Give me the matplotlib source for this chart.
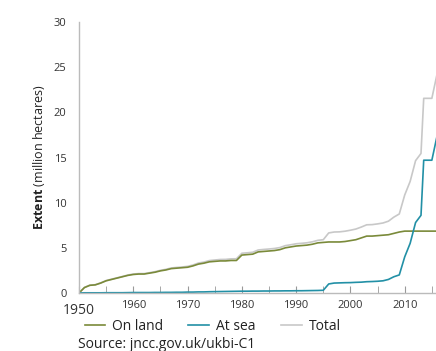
import matplotlib
matplotlib.use("Agg")
import matplotlib.pyplot as plt
import matplotlib.transforms as mtransforms

plt.rcParams['font.family'] = ['Open Sans', 'DejaVu Sans']
plt.rcParams['mathtext.fontset'] = 'custom'
plt.rcParams['mathtext.rm'] = 'Open Sans'
plt.rcParams['mathtext.bf'] = 'Open Sans:bold'

# Extent of protected areas (million hectares)
years = [1950, 1951, 1952, 1953, 1954, 1955, 1956, 1957, 1958, 1959,
         1960, 1961, 1962, 1963, 1964, 1965, 1966, 1967, 1968, 1969,
         1970, 1971, 1972, 1973, 1974, 1975, 1976, 1977, 1978, 1979,
         1980, 1981, 1982, 1983, 1984, 1985, 1986, 1987, 1988, 1989,
         1990, 1991, 1992, 1993, 1994, 1995, 1996, 1997, 1998, 1999,
         2000, 2001, 2002, 2003, 2004, 2005, 2006, 2007, 2008, 2009,
         2010, 2011, 2012, 2013, 2013.5, 2014, 2015, 2016]
on_land = [0.0, 0.6, 0.85, 0.9, 1.1, 1.35, 1.5, 1.65, 1.8, 1.95,
           2.05, 2.1, 2.1, 2.2, 2.3, 2.45, 2.55, 2.7, 2.75, 2.8,
           2.85, 3.0, 3.2, 3.3, 3.45, 3.5, 3.55, 3.55, 3.6, 3.6,
           4.2, 4.25, 4.3, 4.55, 4.6, 4.65, 4.7, 4.8, 5.0, 5.1,
           5.2, 5.25, 5.3, 5.4, 5.55, 5.6, 5.65, 5.65, 5.65, 5.7,
           5.8, 5.9, 6.1, 6.3, 6.3, 6.35, 6.4, 6.45, 6.6, 6.75,
           6.85, 6.85, 6.85, 6.85, 6.85, 6.85, 6.85, 6.85]
at_sea = [0.0, 0.02, 0.02, 0.02, 0.02, 0.03, 0.03, 0.03, 0.03, 0.04,
          0.05, 0.05, 0.05, 0.05, 0.06, 0.06, 0.07, 0.07, 0.08, 0.08,
          0.1, 0.1, 0.12, 0.12, 0.14, 0.15, 0.16, 0.17, 0.18, 0.19,
          0.2, 0.2, 0.21, 0.21, 0.22, 0.22, 0.23, 0.23, 0.24, 0.24,
          0.25, 0.25, 0.26, 0.27, 0.28, 0.3, 1.0, 1.1, 1.12, 1.14,
          1.15, 1.18, 1.2, 1.25, 1.27, 1.3, 1.35, 1.5, 1.8, 2.0,
          4.0, 5.5, 7.8, 8.6, 14.7, 14.7, 14.7, 17.5]
total = [0.0, 0.62, 0.87, 0.92, 1.12, 1.38, 1.53, 1.68, 1.83, 1.99,
         2.1, 2.15, 2.15, 2.25, 2.36, 2.51, 2.62, 2.77, 2.83, 2.88,
         2.95, 3.1, 3.32, 3.42, 3.59, 3.65, 3.71, 3.72, 3.78, 3.79,
         4.4, 4.45, 4.51, 4.76, 4.82, 4.87, 4.93, 5.03, 5.24, 5.34,
         5.45, 5.5, 5.56, 5.67, 5.83, 5.9, 6.65, 6.75, 6.77, 6.84,
         6.95, 7.08, 7.3, 7.55, 7.57, 7.65, 7.75, 7.95, 8.4, 8.75,
         10.85, 12.35, 14.65, 15.45, 21.55, 21.55, 21.55, 24.35]

x_ticks = [1950, 1960, 1970, 1980, 1990, 2000, 2010, 2020]
y_ticks = [0, 5, 10, 15, 20, 25, 30]

fig = plt.figure(figsize=(4.36, 3.51), dpi=100)
ax = fig.add_axes([79 / 436, 58 / 351, 380 / 436, 271 / 351])

ax.plot(years, total, color='#c8c8c8', lw=1.2, label='Total')
ax.plot(years, on_land, color='#7a8a3a', lw=1.2, label='On land')
ax.plot(years, at_sea, color='#2290a6', lw=1.2, label='At sea')

ax.set_xlim(1950, 2020)
ax.set_ylim(0, 30)
ax.set_xticks(x_ticks)
ax.set_xticks(range(1955, 2020, 10), minor=True)
ax.set_yticks(y_ticks)
ax.tick_params(axis='x', which='both', direction='in', length=5, color='#999999',
               labelsize=8, labelcolor='#333333', pad=5)
ax.tick_params(axis='y', length=0, labelsize=8, labelcolor='#333333', pad=9)
first = ax.get_xticklabels()[0]
first.set_fontsize(10)
first.set_transform(first.get_transform() +
                    mtransforms.ScaledTranslation(0, -3 / 100, fig.dpi_scale_trans))

for s in ['top', 'right']:
    ax.spines[s].set_visible(False)
for s in ['left', 'bottom']:
    ax.spines[s].set_color('#bbbbbb')
    ax.spines[s].set_linewidth(1)

ax.set_ylabel(r'$\bf{Extent}$ (million hectares)', fontsize=9, color='#222222', labelpad=5)

h, l = ax.get_legend_handles_labels()
order = [1, 2, 0]
fig.legend([h[i] for i in order], [l[i] for i in order], ncol=3, frameon=False,
           loc='center left', bbox_to_anchor=(72 / 436, 1 - 326 / 351),
           fontsize=10, handlelength=1.5, handletextpad=0.5, columnspacing=1.8,
           labelcolor='#222222')
fig.text(78 / 436, 1 - 344 / 351, 'Source: jncc.gov.uk/ukbi-C1', fontsize=10,
         color='#222222', va='center')

fig.savefig('out.png', dpi=100)
